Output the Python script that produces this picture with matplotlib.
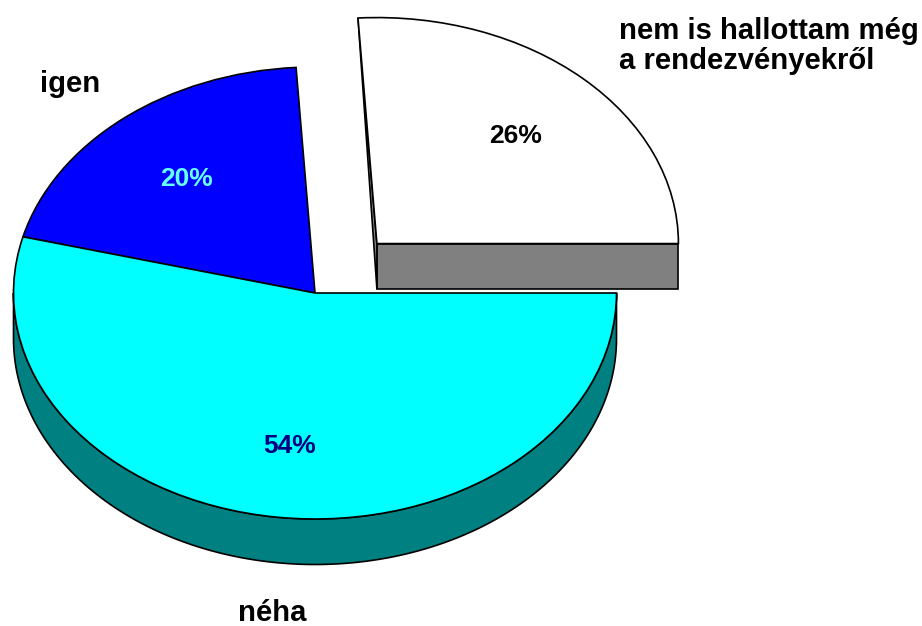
import numpy as np
import matplotlib
matplotlib.use("Agg")
import matplotlib.pyplot as plt
from matplotlib.patches import Polygon

categories = ["nem is hallottam még\na rendezvényekről", "igen", "néha"]
values = [26, 20, 54]
explode = [0.3, 0, 0]
top_colors = ["#FFFFFF", "#0000FF", "#00FFFF"]
wall_colors = ["#808080", "#000080", "#008080"]
pct_colors = ["#000000", "#66FFFF", "#000080"]

W, H = 922, 626
RX, RY = 301.5, 226.0      # ellipse radii in pixels
CX, CY = 315.0, 293.0      # pie centre in pixels
DEPTH = 45.5 / RY          # wall height in data units
LW = 1.2

plt.rcParams["font.family"] = ["Liberation Sans", "DejaVu Sans"]
plt.rcParams["font.weight"] = "bold"
fig = plt.figure(figsize=(W / 100, H / 100), dpi=100)
ax = fig.add_axes([0, 0, 1, 1])

wedges, _, autotexts = ax.pie(
    values, explode=explode, colors=top_colors, startangle=0, counterclock=True,
    autopct=lambda p: f"{p:.0f}%", pctdistance=0.67, radius=1,
    wedgeprops=dict(edgecolor="black", linewidth=LW, zorder=3),
)
for t, c in zip(autotexts, pct_colors):
    t.set_color(c)
    t.set_fontsize(19)
    t.set_fontweight("bold")
    t.set_zorder(5)
    px, py = t.get_position()
    t.set_position((px, py - 3 / RY))

ax.set_aspect("auto")
ax.set_xlim(-CX / RX, (W - CX) / RX)
ax.set_ylim(-(H - CY) / RY, CY / RY)
ax.set_axis_off()

# Walls, derived from the slice angles
fracs = np.array(values) / sum(values)
ends = np.cumsum(fracs) * 360

# Exploded slice: wall below the straight edge at angle 0, sliver at the start edge
w0 = wedges[0]
cx0, cy0 = w0.center
a1 = np.deg2rad(ends[0])
ax.add_patch(Polygon([(cx0, cy0), (cx0 + 1, cy0), (cx0 + 1, cy0 - DEPTH), (cx0, cy0 - DEPTH)],
                     closed=True, facecolor=wall_colors[0], edgecolor="black", linewidth=LW, zorder=2))
ax.add_patch(Polygon([(cx0 + np.cos(a1), cy0 + np.sin(a1)), (cx0, cy0 - DEPTH), (cx0, cy0)],
                     closed=True, facecolor=wall_colors[0], edgecolor="black", linewidth=LW, zorder=2))

# Large slice: curved wall along the front half of the ellipse
th = np.deg2rad(np.linspace(180, 360, 181))
x, y = np.cos(th), np.sin(th)
ring = np.r_[np.c_[x, y], np.c_[x[::-1], y[::-1] - DEPTH]]
ax.add_patch(Polygon(ring, closed=True, facecolor=wall_colors[2], edgecolor="black",
                     linewidth=LW, zorder=2))

def px_text(px, py, s, **kw):
    ax.text(px / W, 1 - py / H, s, transform=ax.transAxes, fontsize=21.1, fontweight="bold",
            color="black", va="center", ha="left", zorder=6, **kw)

px_text(619, 46, categories[0], linespacing=1.13)
px_text(40, 84, categories[1])
px_text(238, 613, categories[2])

fig.savefig("out.png", dpi=100)
